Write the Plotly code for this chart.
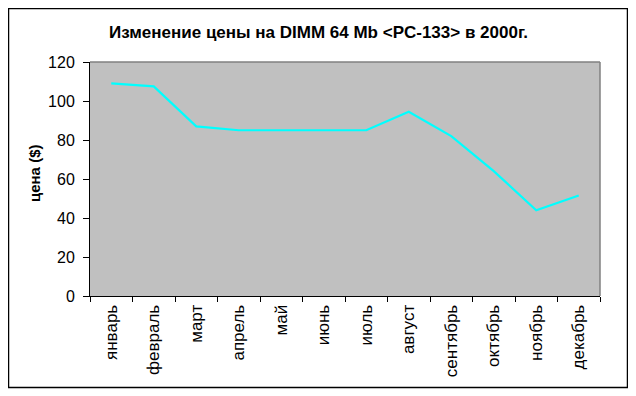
import plotly.graph_objects as go

months = ["январь", "февраль", "март", "апрель", "май", "июнь", "июль",
          "август", "сентябрь", "октябрь", "ноябрь", "декабрь"]
prices = [109, 107.5, 87, 85, 85, 85, 85, 94.5, 82, 64, 44, 51.5]
y_ticks = [0, 20, 40, 60, 80, 100, 120]
title_text = "Изменение цены на DIMM 64 Mb &lt;PC-133&gt; в 2000г."
y_title = "цена ($)"

OFF = 8  # page body margin
W, H = 636 - OFF, 396 - OFF
L, T = 90 - OFF, 62 - OFF
R, B = W - (600 - OFF), H - (296 - OFF)
pw, ph = W - L - R, H - T - B

def px(x):
    return (x - OFF - L) / pw

def py(y):
    return (H - B - (y - OFF)) / ph

FAM = "Liberation Sans, Arial, sans-serif"

fig = go.Figure()
fig.add_trace(go.Scatter(x=months, y=prices, mode="lines",
                         line=dict(color="#00FFFF", width=2.2),
                         hoverinfo="skip", showlegend=False))

fig.update_layout(
    width=W, height=H,
    margin=dict(l=L, r=R, t=T, b=B, pad=0),
    paper_bgcolor="white",
    plot_bgcolor="#C0C0C0",
    font=dict(family=FAM, size=15, color="black"),
    showlegend=False,
    xaxis=dict(type="category", range=[-0.5, 11.5], showgrid=False,
               showline=True, linecolor="black", linewidth=1,
               ticks="outside", tickson="boundaries", ticklen=5,
               tickcolor="black", tickangle=-90,
               tickfont=dict(family=FAM, size=17, color="black"),
               ticklabelstandoff=1,
               zeroline=False, fixedrange=True),
    yaxis=dict(range=[0, 120], tickvals=y_ticks, showgrid=False,
               showline=True, linecolor="black", linewidth=1,
               ticks="outside", ticklen=6, tickcolor="black",
               tickfont=dict(family=FAM, size=16, color="black"),
               ticklabelstandoff=5,
               zeroline=False, fixedrange=True),
    shapes=[
        dict(type="line", xref="paper", yref="paper", x0=0, x1=1, y0=1, y1=1,
             line=dict(color="#808080", width=1.5), layer="above"),
        dict(type="line", xref="paper", yref="paper", x0=1, x1=1, y0=0, y1=1,
             line=dict(color="#808080", width=1.5), layer="above"),
        dict(type="rect", xref="paper", yref="paper",
             x0=px(8.5), x1=px(627.5), y0=py(387.5), y1=py(8.5),
             line=dict(color="black", width=1.5), fillcolor="rgba(0,0,0,0)",
             layer="above"),
    ],
    annotations=[
        dict(text="<b>" + title_text + "</b>", xref="paper", yref="paper",
             x=px(318), y=py(32), xanchor="center", yanchor="middle",
             showarrow=False, font=dict(family=FAM, size=17, color="black")),
        dict(text="<b>" + y_title + "</b>", xref="paper", yref="paper",
             x=px(34), y=py(174), xanchor="center", yanchor="middle",
             textangle=-90, showarrow=False,
             font=dict(family=FAM, size=15, color="black")),
    ],
)

fig.write_html("out.html")
